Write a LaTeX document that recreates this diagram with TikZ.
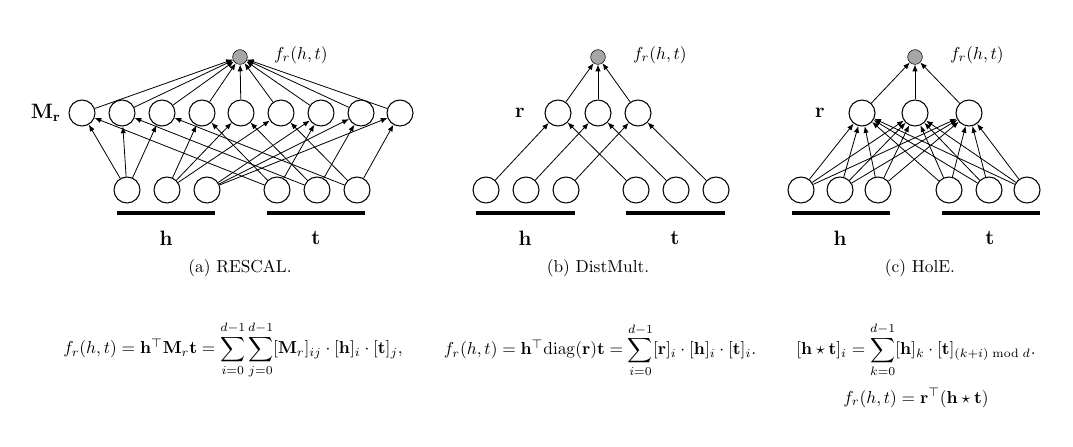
\documentclass[tikz,border=0pt]{standalone}
\usepackage{amsmath,amssymb}
\usetikzlibrary{arrows.meta}
\begin{document}
\begin{tikzpicture}[x=0.75pt,y=-0.75pt,
  n/.style={circle,draw,thick,minimum size=19.5pt,inner sep=0pt},
  o/.style={circle,draw,fill=gray!70,minimum size=11pt,inner sep=0pt},
  a/.style={-{Latex[length=5pt,width=4pt]},semithick},
  bar/.style={line width=2.5pt},
  t/.style={scale=1.3,transform shape},
  lab/.style={t,font=\large\bfseries}]
\useasboundingbox (0,0) rectangle (1073,446);
% ---------- (a) RESCAL
\node[o] (ao) at (240,57) {};
\node[t,anchor=west] (aof) at (268,55) {$f_r(h,t)$};
\foreach \k/\x in {0/82,1/122,2/162,3/202,4/241,5/281,6/321,7/361,8/400}
  \node[n] (am\k) at (\x,113) {};
\foreach \i/\x in {0/127,1/167,2/207} \node[n] (ah\i) at (\x,190) {};
\foreach \i/\x in {0/277,1/317,2/357} \node[n] (at\i) at (\x,190) {};
\foreach \k in {0,...,8} \draw[a] (am\k) -- (ao);
\foreach \i in {0,1,2} \foreach \j in {0,1,2} {
  \pgfmathtruncatemacro\k{3*\i+\j}
  \draw[a] (ah\i) -- (am\k);
  \draw[a] (at\j) -- (am\k);}
\node[lab,anchor=east] (aml) at (67,113) {M\textsubscript{r}};
\coordinate (ab1) at (117,213); \coordinate (ab2) at (215,213);
\coordinate (ab3) at (267,213); \coordinate (ab4) at (365,213);
\draw[bar] (ab1) -- (ab2); \draw[bar] (ab3) -- (ab4);
\node[lab] (ahl) at (166,238) {h};
\node[lab] (atl) at (316,238) {t};
\node[t] (acap) at (240,268) {(a) RESCAL.};
% ---------- (b) DistMult
\node[o] (bo) at (598,57) {};
\node[t,anchor=west] (bof) at (627,55) {$f_r(h,t)$};
\foreach \k/\x in {0/558,1/598,2/638} \node[n] (br\k) at (\x,113) {};
\foreach \i/\x in {0/486,1/526,2/566} \node[n] (bh\i) at (\x,190) {};
\foreach \i/\x in {0/636,1/676,2/716} \node[n] (bt\i) at (\x,190) {};
\foreach \k in {0,1,2} {\draw[a] (br\k) -- (bo); \draw[a] (bh\k) -- (br\k); \draw[a] (bt\k) -- (br\k);}
\node[lab] (brl) at (520,113) {r};
\coordinate (bb1) at (476,213); \coordinate (bb2) at (575,213);
\coordinate (bb3) at (626,213); \coordinate (bb4) at (725,213);
\draw[bar] (bb1) -- (bb2); \draw[bar] (bb3) -- (bb4);
\node[lab] (bhl) at (525,238) {h};
\node[lab] (btl) at (675,238) {t};
\node[t] (bcap) at (598,268) {(b) DistMult.};
% ---------- (c) HolE
\node[o] (co) at (915,57) {};
\node[t,anchor=west] (cof) at (944,55) {$f_r(h,t)$};
\foreach \k/\x in {0/862,1/915,2/969} \node[n] (cr\k) at (\x,113) {};
\foreach \i/\x in {0/801,1/840,2/878} \node[n] (ch\i) at (\x,190) {};
\foreach \i/\x in {0/949,1/989,2/1027} \node[n] (ct\i) at (\x,190) {};
\foreach \k in {0,1,2} {\draw[a] (cr\k) -- (co);
  \foreach \i in {0,1,2} {\draw[a] (ch\i) -- (cr\k); \draw[a] (ct\i) -- (cr\k);}}
\node[lab] (crl) at (820,113) {r};
\coordinate (cb1) at (792,213); \coordinate (cb2) at (890,213);
\coordinate (cb3) at (942,213); \coordinate (cb4) at (1040,213);
\draw[bar] (cb1) -- (cb2); \draw[bar] (cb3) -- (cb4);
\node[lab] (chl) at (840,238) {h};
\node[lab] (ctl) at (990,238) {t};
\node[t] (ccap) at (920,268) {(c) HolE.};
% ---------- formulas
\node[t] (fa) at (233,350) {$f_r(h,t)=\mathbf{h}^{\top}\mathbf{M}_r\mathbf{t}=\displaystyle\sum_{i=0}^{d-1}\sum_{j=0}^{d-1}[\mathbf{M}_r]_{ij}\cdot[\mathbf{h}]_i\cdot[\mathbf{t}]_j,$};
\node[t] (fb) at (600,350) {$f_r(h,t)=\mathbf{h}^{\top}\mathrm{diag}(\mathbf{r})\mathbf{t}=\displaystyle\sum_{i=0}^{d-1}[\mathbf{r}]_i\cdot[\mathbf{h}]_i\cdot[\mathbf{t}]_i.$};
\node[t] (fc1) at (916,350) {$[\mathbf{h}\star\mathbf{t}]_i=\displaystyle\sum_{k=0}^{d-1}[\mathbf{h}]_k\cdot[\mathbf{t}]_{(k+i)\bmod d}.$};
\node[t] (fc2) at (916,398) {$f_r(h,t)=\mathbf{r}^{\top}(\mathbf{h}\star\mathbf{t})$};
\end{tikzpicture}
\end{document}
